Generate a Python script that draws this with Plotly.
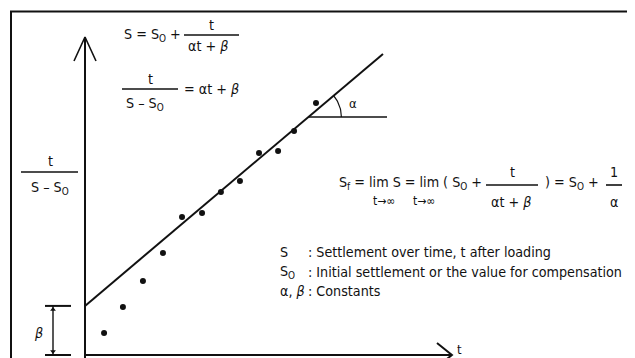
import numpy as np
import plotly.graph_objects as go

# measured points, t (time) and t/(S-S0)
t_obs = [0.99, 1.97, 3.01, 4.05, 5.04, 6.08, 7.06, 8.05, 9.04, 10.03, 10.86, 12.0]
ratio_obs = [1.14, 2.49, 3.84, 5.30, 7.17, 7.38, 8.47, 9.04, 10.49, 10.60, 11.64, 13.09]

# fitted straight line t/(S-S0) = alpha*t + beta
fit_t = [0.0, 15.48]
fit_ratio = [2.55, 15.64]
beta = 2.55

# axes extent
t_axis_end = 19.06
ratio_axis_end = 16.52

# page body keeps an 8px margin, so the figure fills the rest of the window
PAD = 8
WIN_W, WIN_H = 635, 358
W, H = WIN_W - PAD, WIN_H - PAD
INK = "#111111"
FONT = "Liberation Sans Narrow, Arial Narrow, DejaVu Sans Condensed, sans-serif"
FS = 14.2
SCALE = 19.25  # px per unit on both axes
X0, Y0 = 85, 355  # window position of the origin


def px(x, y):
    return (x - X0) / SCALE, (Y0 - y) / SCALE


fig = go.Figure()

# axes drawn as lines with open arrowheads
fig.add_trace(go.Scatter(x=[0, 0], y=[-1, ratio_axis_end], mode="lines",
                         line=dict(color=INK, width=2)))
ah = px(74, 61)
fig.add_trace(go.Scatter(x=[ah[0], 0, -ah[0]], y=[ah[1], ratio_axis_end, ah[1]], mode="lines",
                         line=dict(color=INK, width=1.6)))
fig.add_trace(go.Scatter(x=[0, t_axis_end], y=[0, 0], mode="lines",
                         line=dict(color=INK, width=2)))
xa = px(437, 343)
fig.add_trace(go.Scatter(x=[xa[0], t_axis_end, xa[0]], y=[xa[1], 0, -xa[1]], mode="lines",
                         line=dict(color=INK, width=2)))

# fitted line and points
fig.add_trace(go.Scatter(x=fit_t, y=fit_ratio, mode="lines", line=dict(color=INK, width=2)))
fig.add_trace(go.Scatter(x=t_obs, y=ratio_obs, mode="markers",
                         marker=dict(color=INK, size=6)))

# slope angle alpha
slope = (fit_ratio[1] - fit_ratio[0]) / (fit_t[1] - fit_t[0])
h_y = px(0, 117)[1]
t_cross = (h_y - fit_ratio[0]) / slope
fig.add_trace(go.Scatter(x=[t_cross, px(387, 0)[0]], y=[h_y, h_y], mode="lines",
                         line=dict(color=INK, width=1.6)))
ang = np.linspace(0, np.arctan(slope), 20)
r = 33 / SCALE
fig.add_trace(go.Scatter(x=t_cross + r * np.cos(ang), y=h_y + r * np.sin(ang), mode="lines",
                         line=dict(color=INK, width=1.2)))

# beta bracket
bx0, bx1, bxm = px(45, 0)[0], px(71, 0)[0], px(53, 0)[0]
for yy in [0, beta]:
    fig.add_trace(go.Scatter(x=[bx0, bx1], y=[yy, yy], mode="lines",
                             line=dict(color=INK, width=2)))
fig.add_trace(go.Scatter(x=[bxm, bxm], y=[0, beta], mode="lines",
                         line=dict(color=INK, width=1.4)))
fig.add_trace(go.Scatter(x=[bxm, bxm], y=[0.18, beta - 0.18], mode="markers",
                         marker=dict(symbol=["triangle-down", "triangle-up"], size=5, color=INK)))

ann = []
shapes = []


def pp(x, y):
    return (x - PAD) / W, 1 - (y - PAD) / H


def txt(s, x, y, size=FS, anchor="left"):
    xp, yp = pp(x, y)
    ann.append(dict(text=s, x=xp, y=yp, xref="paper", yref="paper",
                    xanchor=anchor, yanchor="middle", showarrow=False,
                    font=dict(family=FONT, size=size, color=INK)))


def bar(x0, x1, y, w=1.6):
    a, yp = pp(x0, y)
    b, _ = pp(x1, y)
    shapes.append(dict(type="line", xref="paper", yref="paper", x0=a, x1=b,
                       y0=yp, y1=yp, line=dict(color=INK, width=w)))


# frame
fx, fy = pp(11, 11.5)
shapes.append(dict(type="rect", xref="paper", yref="paper", x0=fx, x1=1.2,
                   y0=-0.2, y1=fy, line=dict(color=INK, width=2)))

# S = S0 + t/(at+b)
txt("S = S<sub>O</sub> +", 122, 35)
bar(184, 239, 35)
txt("t", 212, 25, anchor="center")
txt("αt + <i>β</i>", 208, 46, anchor="center")

# t/(S-S0) = at + b
txt("t", 150, 79, anchor="center")
bar(122, 178, 89)
txt("S – S<sub>O</sub>", 145, 104, anchor="center")
txt("= αt + <i>β</i>", 182, 89)

# y label
txt("t", 50, 161, anchor="center")
bar(21, 78, 172)
txt("S – S<sub>O</sub>", 50, 188, anchor="center")

txt("<i>β</i>", 39, 333, anchor="center")
txt("α", 353, 104, size=13, anchor="center")
txt("t", 459, 349, size=13, anchor="center")

# limit
txt("S<sub>f</sub> = lim S = lim ( S<sub>O</sub> +", 337, 183)
txt("t→∞", 384, 201, size=12, anchor="center")
txt("t→∞", 424, 201, size=12, anchor="center")
bar(486, 538, 185)
txt("t", 512, 172, anchor="center")
txt("αt + <i>β</i>", 511, 202, anchor="center")
txt(") = S<sub>O</sub> +", 543, 183)
bar(606, 622, 185)
txt("1", 614, 172, anchor="center")
txt("α", 614, 202, anchor="center")

# legend of symbols
txt("S", 278, 252)
txt(": Settlement over time, t after loading", 306, 252)
txt("S<sub>O</sub>", 278, 272)
txt(": Initial settlement or the value for compensation", 306, 272)
txt("α, <i>β</i>", 278, 291)
txt(": Constants", 306, 291)

x_lo, y_hi = px(PAD, PAD)
x_hi, y_lo = px(WIN_W, WIN_H)
fig.update_layout(
    width=W, height=H, margin=dict(l=0, r=0, t=0, b=0),
    paper_bgcolor="white", plot_bgcolor="white", showlegend=False,
    xaxis=dict(range=[x_lo, x_hi], visible=False, fixedrange=True),
    yaxis=dict(range=[y_lo, y_hi], visible=False, fixedrange=True),
    annotations=ann, shapes=shapes,
)
fig.write_html("out.html")
